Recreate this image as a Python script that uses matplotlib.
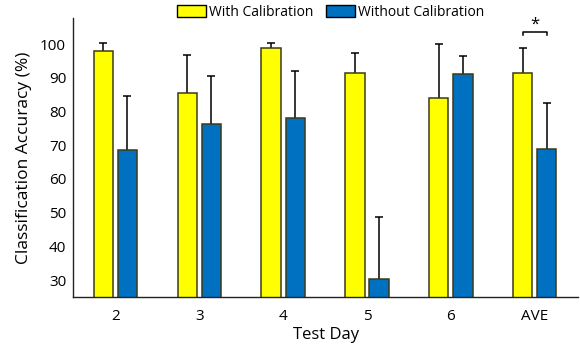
import numpy as np
import matplotlib.pyplot as plt
from matplotlib.patches import Patch

plt.rcParams['font.family'] = ['Open Sans', 'DejaVu Sans']

days = ['2', '3', '4', '5', '6', 'AVE']
with_cal = [97.9, 85.6, 98.7, 91.5, 84.0, 91.5]
with_cal_err = [2.4, 11.1, 1.6, 5.8, 15.9, 7.3]
without_cal = [68.6, 76.2, 78.2, 30.4, 91.0, 68.8]
without_cal_err = [16.1, 14.3, 13.8, 18.4, 5.4, 13.6]

yellow = '#ffff00'
blue = '#0070c0'
edge = '#3a3a1a'

fig = plt.figure(figsize=(5.8, 3.56), dpi=100)
ax = fig.add_axes([0.126, 0.166, 0.871, 0.783])

x = np.arange(len(days))
w = 0.23
off = 0.144

def upper_err(pos, vals, errs):
    # only the upper half of the error bar, with a cap
    tops = np.array(vals) + np.array(errs)
    ax.vlines(pos, vals, tops, color='black', linewidth=1.1, zorder=1)
    ax.plot(pos, tops, linestyle='none', marker='_', markersize=5.5,
            markeredgewidth=1.1, color='black', zorder=1)

ax.bar(x - off, with_cal, w, color=yellow, edgecolor=edge, linewidth=1.1, zorder=2)
ax.bar(x + off, without_cal, w, color=blue, edgecolor=edge, linewidth=1.1, zorder=2)
upper_err(x - off, with_cal, with_cal_err)
upper_err(x + off, without_cal, without_cal_err)

# significance bracket on the average
i = len(days) - 1
ax.plot([i - off, i - off, i + off, i + off], [102.6, 103.5, 103.5, 102.6],
        color='black', linewidth=1.1, clip_on=False)
ax.text(i, 103.4, '*', ha='center', va='bottom', fontsize=12)

ax.set_ylim(25, 107.7)
ax.set_xlim(-0.505, 5.52)
ax.set_yticks([30, 40, 50, 60, 70, 80, 90, 100])
ax.set_xticks(x)
ax.set_xticklabels(days)
ax.tick_params(axis='both', length=0, labelsize=11)
ax.tick_params(axis='x', pad=9)
ax.tick_params(axis='y', pad=5)
for s in ['top', 'right']:
    ax.spines[s].set_visible(False)
for s in ['left', 'bottom']:
    ax.spines[s].set_linewidth(1.0)
    ax.spines[s].set_color('#222222')

ax.set_xlabel('Test Day', fontsize=12, labelpad=2)
ax.set_ylabel('Classification Accuracy (%)', fontsize=12.5, labelpad=6)

handles = [Patch(facecolor=yellow, edgecolor='black', linewidth=1.0),
           Patch(facecolor=blue, edgecolor='black', linewidth=1.0)]
fig.legend(handles, ['With Calibration', 'Without Calibration'], loc='center',
           bbox_to_anchor=(0.57, 0.966), ncol=2, frameon=False, fontsize=10,
           handlelength=2.1, handleheight=1.0, handletextpad=0.2, columnspacing=0.9)

fig.savefig('out.png', dpi=100)
